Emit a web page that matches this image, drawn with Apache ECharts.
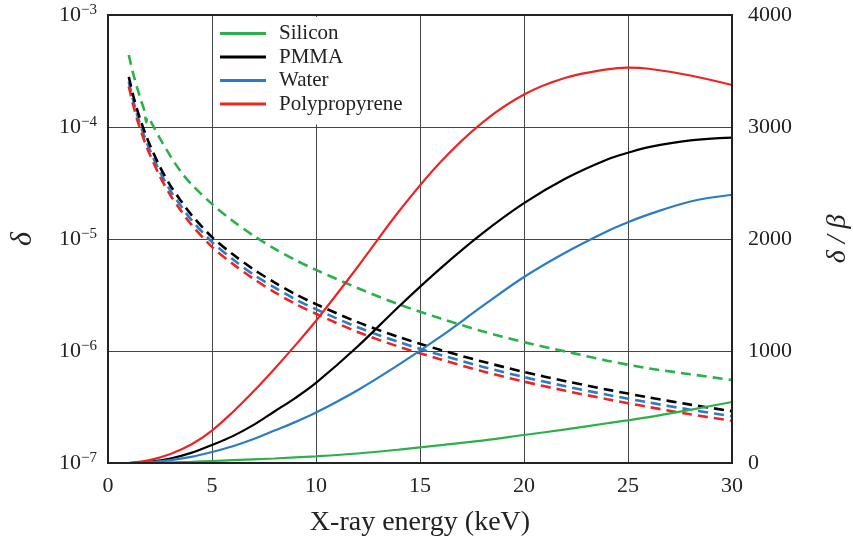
<!DOCTYPE html>
<html>
<head>
<meta charset="utf-8">
<script src="https://cdn.jsdelivr.net/npm/echarts@6/dist/echarts.min.js"></script>
<style>
html,body{margin:0;padding:0;background:#fff;}
#chart{width:853px;height:544px;}
</style>
</head>
<body>
<div id="chart"></div>
<script>
// ---- Data ----
const materials = ['Silicon', 'PMMA', 'Water', 'Polypropyrene'];

// delta (left, log axis) - dashed curves
const energyDelta = [1, 1.2, 1.4, 1.6, 1.8, 2, 2.5, 3, 3.5, 4, 5, 6, 7, 8, 9, 10, 12, 14, 16, 18, 20, 22, 24, 26, 28, 30];
const deltaPMMA = [2.8e-4, 1.95e-4, 1.43e-4, 1.1e-4, 8.7e-5, 7.0e-5, 4.4e-5, 3.0e-5, 2.2e-5, 1.65e-5, 1.04e-5, 7.3e-6, 5.35e-6, 4.1e-6, 3.22e-6, 2.62e-6, 1.81e-6, 1.33e-6, 1.02e-6, 8.05e-7, 6.5e-7, 5.38e-7, 4.52e-7, 3.85e-7, 3.32e-7, 2.9e-7];
const deltaWater = [2.52e-4, 1.76e-4, 1.29e-4, 9.9e-5, 7.8e-5, 6.3e-5, 3.96e-5, 2.7e-5, 1.98e-5, 1.49e-5, 9.4e-6, 6.6e-6, 4.8e-6, 3.7e-6, 2.9e-6, 2.36e-6, 1.63e-6, 1.2e-6, 9.2e-7, 7.25e-7, 5.85e-7, 4.84e-7, 4.07e-7, 3.47e-7, 2.99e-7, 2.61e-7];
const deltaPP = [2.3e-4, 1.6e-4, 1.17e-4, 9.0e-5, 7.1e-5, 5.74e-5, 3.6e-5, 2.46e-5, 1.8e-5, 1.35e-5, 8.5e-6, 6.0e-6, 4.4e-6, 3.36e-6, 2.64e-6, 2.15e-6, 1.48e-6, 1.09e-6, 8.4e-7, 6.6e-7, 5.33e-7, 4.41e-7, 3.71e-7, 3.16e-7, 2.72e-7, 2.38e-7];
const energyDeltaSi = [1, 1.2, 1.4, 1.6, 1.75, 1.84, 1.9, 2, 2.2, 2.5, 3, 3.5, 4, 5, 6, 7, 8, 9, 10, 12, 14, 16, 18, 20, 22, 24, 26, 28, 30];
const deltaSi = [4.4e-4, 3.05e-4, 2.25e-4, 1.7e-4, 1.4e-4, 1.1e-4, 1.22e-4, 1.17e-4, 1.0e-4, 7.9e-5, 5.5e-5, 4.0e-5, 3.1e-5, 2.05e-5, 1.45e-5, 1.07e-5, 8.2e-6, 6.5e-6, 5.3e-6, 3.65e-6, 2.6e-6, 1.95e-6, 1.5e-6, 1.2e-6, 9.9e-7, 8.2e-7, 7.0e-7, 6.2e-7, 5.5e-7];

// delta/beta (right, linear axis) - solid curves
const energyRatio = [1, 2, 3, 4, 5, 6, 7, 8, 9, 10, 12, 14, 16, 18, 20, 22, 24, 25, 26, 28, 30];
const ratioPP = [0, 25, 80, 165, 290, 455, 640, 840, 1050, 1270, 1750, 2250, 2690, 3040, 3290, 3440, 3515, 3530, 3520, 3460, 3375];
const ratioPMMA = [0, 12, 40, 90, 161, 240, 340, 460, 580, 715, 1040, 1400, 1740, 2050, 2320, 2540, 2710, 2770, 2820, 2880, 2905];
const ratioWater = [0, 8, 25, 55, 98, 150, 215, 290, 365, 450, 650, 880, 1130, 1400, 1661, 1880, 2070, 2150, 2220, 2335, 2395];
const energyRatioSi = [1.84, 3, 4, 5, 6, 8, 10, 12, 14, 16, 18, 20, 22, 24, 26, 28, 30];
const ratioSi = [0, 5, 10, 18, 25, 40, 60, 85, 120, 160, 200, 250, 300, 355, 410, 475, 545];

const xTicks = [0, 5, 10, 15, 20, 25, 30];
const leftTicks = [1e-7, 1e-6, 1e-5, 1e-4, 1e-3];
const rightTicks = [0, 1000, 2000, 3000, 4000];

const colors = {Silicon: '#2bb04a', PMMA: '#000000', Water: '#2a7cc6', Polypropyrene: '#ec2524'};

function pairs(xs, ys) { return xs.map((x, i) => [x, ys[i]]); }

const FONT = 'Liberation Serif';

const solid = (name, xs, ys) => ({
  name: name, type: 'line', xAxisIndex: 0, yAxisIndex: 1,
  data: pairs(xs, ys), symbol: 'none', smooth: 0.35,
  lineStyle: {color: colors[name], width: 2.2, type: 'solid'},
  itemStyle: {color: colors[name]}, z: 3
});
const dashed = (name, xs, ys) => ({
  name: name + ' δ', type: 'line', xAxisIndex: 0, yAxisIndex: 0,
  data: pairs(xs, ys), symbol: 'none', smooth: 0.3,
  lineStyle: {color: colors[name], width: 2.6, type: [10, 6]},
  itemStyle: {color: colors[name]}, z: 3
});

const chart = echarts.init(document.getElementById('chart'), null, {renderer: 'canvas'});
chart.setOption({
  backgroundColor: '#fff',
  animation: false,
  textStyle: {fontFamily: FONT},
  grid: {left: 108, right: 121, top: 15, bottom: 81, containLabel: false, outerBoundsMode: 'none',
    show: true, borderColor: '#222', borderWidth: 2, backgroundColor: 'transparent', z: 5},
  legend: {
    data: materials, orient: 'vertical', left: 214, top: 17,
    backgroundColor: '#fff', padding: [6, 13, 10, 6], itemGap: 2.5,
    itemWidth: 46, itemHeight: 3, icon: 'rect', selectedMode: false,
    textStyle: {fontFamily: FONT, fontSize: 21, color: '#222', lineHeight: 21, padding: [0, 0, 0, 8]},
    z: 10
  },
  xAxis: [{
    type: 'value', min: 0, max: 30, interval: 5,
    name: 'X-ray energy (keV)', nameLocation: 'middle', nameGap: 46,
    nameTextStyle: {fontFamily: FONT, fontSize: 28, color: '#222'},
    axisLine: {show: true, lineStyle: {color: '#222', width: 2}},
    axisTick: {show: false},
    axisLabel: {fontFamily: FONT, fontSize: 22, color: '#222', margin: 12,
      formatter: v => xTicks.includes(v) ? String(v) : ''},
    splitLine: {show: true, lineStyle: {color: '#444', width: 1}}
  }],
  yAxis: [{
    type: 'log', logBase: 10, min: leftTicks[0], max: leftTicks[leftTicks.length - 1], position: 'left',
    name: 'δ', nameLocation: 'middle', nameGap: 70,
    nameTextStyle: {fontFamily: FONT, fontSize: 30, fontStyle: 'italic', color: '#222'},
    axisLine: {show: true, lineStyle: {color: '#222', width: 2}},
    axisTick: {show: false},
    axisLabel: {
      margin: 11, color: '#222',
      formatter: function (v) {
        const e = Math.round(Math.log10(v));
        return '{b|10}{s|−' + (-e) + '}';
      },
      rich: {
        b: {fontFamily: FONT, fontSize: 22, color: '#222', lineHeight: 24},
        s: {fontFamily: FONT, fontSize: 15, color: '#222', verticalAlign: 'top', lineHeight: 15}
      }
    },
    splitLine: {show: true, lineStyle: {color: '#444', width: 1}}
  }, {
    type: 'value', min: 0, max: 4000, interval: 1000, position: 'right',
    name: 'δ / β', nameLocation: 'middle', nameGap: 92,
    nameTextStyle: {fontFamily: FONT, fontSize: 28, fontStyle: 'italic', color: '#222'},
    axisLine: {show: true, lineStyle: {color: '#222', width: 2}},
    axisTick: {show: false},
    axisLabel: {fontFamily: FONT, fontSize: 22, color: '#222', margin: 16,
      formatter: v => rightTicks.includes(v) ? String(v) : ''},
    splitLine: {show: false}
  }],
  series: [
    dashed('Silicon', energyDeltaSi, deltaSi),
    dashed('Water', energyDelta, deltaWater),
    dashed('Polypropyrene', energyDelta, deltaPP),
    dashed('PMMA', energyDelta, deltaPMMA),
    solid('Silicon', energyRatioSi, ratioSi),
    solid('PMMA', energyRatio, ratioPMMA),
    solid('Water', energyRatio, ratioWater),
    solid('Polypropyrene', energyRatio, ratioPP)
  ]
});
</script>
</body>
</html>
